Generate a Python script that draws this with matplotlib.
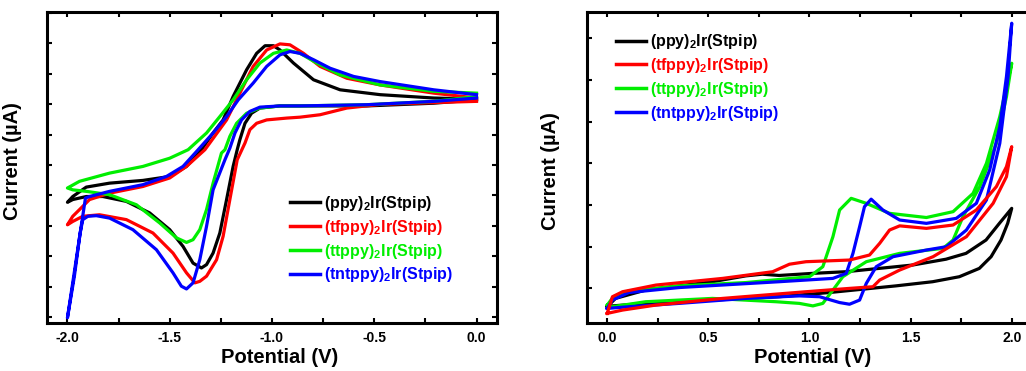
import numpy as np
import matplotlib
matplotlib.use('Agg')
import matplotlib.pyplot as plt
from matplotlib.ticker import MultipleLocator, NullFormatter

plt.rcParams['font.family'] = ['Liberation Sans', 'DejaVu Sans']
plt.rcParams['font.weight'] = 'bold'
plt.rcParams['axes.unicode_minus'] = False
plt.rcParams['mathtext.fontset'] = 'custom'
plt.rcParams['mathtext.rm'] = 'Liberation Sans:bold'
plt.rcParams['mathtext.bf'] = 'Liberation Sans:bold'

labels = ['(ppy)$_\\mathbf{2}$Ir(Stpip)', '(tfppy)$_\\mathbf{2}$Ir(Stpip)',
          '(ttppy)$_\\mathbf{2}$Ir(Stpip)', '(tntppy)$_\\mathbf{2}$Ir(Stpip)']
colors = ['#000000', '#ff0000', '#00ee00', '#0000ff']

# ---- reduction scans (left), potential in V, current in arbitrary units
red_ppy_v = [0.0, -0.209, -0.536, -0.863, -0.961, -1.059, -1.100, -1.132, -1.157, -1.170, -1.190, -1.222,
             -1.255, -1.288, -1.320, -1.345, -1.386, -1.435, -1.500, -1.598, -1.712, -1.827, -1.908, -1.974,
             -2.0, -1.974, -1.908, -1.794, -1.631, -1.500, -1.418, -1.345, -1.288, -1.239, -1.190, -1.124,
             -1.075, -1.034, -0.993, -0.961, -0.895, -0.797, -0.667, -0.471, -0.209, 0.0]
red_ppy_i = [7.14, 7.03, 6.94, 6.94, 6.94, 6.87, 6.70, 6.37, 5.83, 5.50, 4.95, 3.86,
             2.76, 2.10, 1.72, 1.61, 1.77, 2.32, 2.87, 3.42, 3.80, 3.96, 3.96, 3.86,
             3.77, 3.96, 4.27, 4.40, 4.49, 4.62, 4.95, 5.50, 6.05, 6.48, 7.25, 8.13,
             8.67, 8.92, 8.92, 8.78, 8.35, 7.80, 7.47, 7.31, 7.20, 7.16]

red_tfppy_v = [0.0, -0.209, -0.471, -0.634, -0.765, -0.863, -0.928, -1.026, -1.075, -1.108, -1.132, -1.170,
               -1.206, -1.239, -1.271, -1.320, -1.353, -1.377, -1.418, -1.484, -1.582, -1.712, -1.843, -1.925,
               -1.974, -2.0, -1.974, -1.941, -1.892, -1.794, -1.631, -1.500, -1.418, -1.328, -1.222, -1.157,
               -1.092, -1.026, -0.961, -0.912, -0.846, -0.765, -0.634, -0.471, -0.209, 0.0]
red_tfppy_i = [7.09, 7.05, 6.99, 6.87, 6.65, 6.57, 6.54, 6.48, 6.37, 6.16, 5.72, 5.17,
               3.86, 2.65, 1.88, 1.34, 1.17, 1.12, 1.45, 2.10, 2.76, 3.20, 3.36, 3.31,
               3.14, 3.03, 3.31, 3.53, 3.86, 4.07, 4.29, 4.57, 4.95, 5.50, 6.48, 7.36,
               8.24, 8.78, 8.98, 8.95, 8.67, 8.24, 7.85, 7.63, 7.36, 7.20]

red_ttppy_v = [0.0, -0.209, -0.536, -0.863, -0.961, -1.059, -1.124, -1.173, -1.206, -1.230, -1.247, -1.288,
               -1.320, -1.353, -1.386, -1.418, -1.467, -1.549, -1.663, -1.794, -1.908, -1.974, -2.0, -1.941,
               -1.794, -1.631, -1.500, -1.410, -1.320, -1.255, -1.190, -1.124, -1.059, -0.993, -0.928, -0.863,
               -0.781, -0.667, -0.471, -0.209, 0.0]
red_ttppy_i = [7.25, 7.09, 6.98, 6.94, 6.94, 6.87, 6.70, 6.37, 5.94, 5.50, 5.39, 4.40,
               3.53, 2.87, 2.54, 2.45, 2.60, 3.09, 3.69, 4.02, 4.13, 4.18, 4.24, 4.46,
               4.73, 4.95, 5.22, 5.50, 6.05, 6.59, 7.14, 7.80, 8.35, 8.67, 8.78, 8.67,
               8.35, 7.96, 7.63, 7.42, 7.36]

red_tntppy_v = [0.0, -0.209, -0.536, -0.863, -0.961, -1.059, -1.108, -1.149, -1.181, -1.206, -1.230, -1.288,
                -1.320, -1.353, -1.386, -1.418, -1.443, -1.484, -1.565, -1.680, -1.794, -1.859, -1.900, -1.925,
                -1.938, -1.966, -2.0, -1.912, -1.892, -1.794, -1.631, -1.516, -1.435, -1.369, -1.288, -1.222,
                -1.165, -1.092, -1.026, -0.961, -0.912, -0.863, -0.797, -0.716, -0.601, -0.471, -0.209, 0.0]
red_tntppy_i = [7.20, 7.09, 6.98, 6.94, 6.94, 6.90, 6.76, 6.48, 6.05, 5.55, 5.17, 4.18,
                2.98, 1.88, 1.12, 0.92, 1.01, 1.45, 2.21, 2.87, 3.25, 3.33, 3.31, 3.20,
                2.76, 1.34, -0.03, 3.91, 3.96, 4.13, 4.35, 4.62, 4.95, 5.44, 6.05, 6.59,
                7.14, 7.69, 8.24, 8.62, 8.73, 8.67, 8.46, 8.18, 7.91, 7.74, 7.47, 7.31]

# ---- oxidation scans (right)
ox_ppy_v = [0.0, 0.041, 0.190, 0.520, 0.685, 0.767, 0.850, 1.015, 1.180, 1.345, 1.510, 1.675,
            1.774, 1.873, 1.939, 2.0, 1.980, 1.947, 1.898, 1.840, 1.741, 1.609, 1.427, 1.262,
            1.097, 0.850, 0.520, 0.190, 0.025, 0.0]
ox_ppy_i = [-0.44, -0.24, -0.04, 0.16, 0.30, 0.34, 0.31, 0.36, 0.40, 0.48, 0.56, 0.70,
            0.84, 1.16, 1.56, 1.92, 1.56, 1.16, 0.76, 0.48, 0.28, 0.16, 0.06, -0.02,
            -0.10, -0.20, -0.28, -0.36, -0.42, -0.44]

ox_tfppy_v = [0.0, 0.026, 0.076, 0.241, 0.571, 0.818, 0.901, 0.983, 1.198, 1.297, 1.347, 1.396,
              1.446, 1.578, 1.710, 1.825, 1.924, 1.974, 2.0, 1.974, 1.908, 1.776, 1.611, 1.446,
              1.347, 1.314, 1.198, 0.983, 0.571, 0.241, 0.076, 0.0]
ox_tfppy_i = [-0.60, -0.20, -0.08, 0.08, 0.24, 0.40, 0.58, 0.64, 0.68, 0.80, 1.08, 1.40,
              1.50, 1.44, 1.52, 1.88, 2.44, 2.92, 3.40, 2.68, 2.04, 1.24, 0.76, 0.44,
              0.20, 0.04, 0.00, -0.08, -0.24, -0.40, -0.52, -0.60]

ox_ttppy_v = [0.0, 0.031, 0.107, 0.355, 0.685, 1.000, 1.066, 1.116, 1.149, 1.206, 1.281, 1.396,
              1.578, 1.710, 1.809, 1.875, 1.941, 2.0, 1.974, 1.924, 1.842, 1.759, 1.710, 1.660,
              1.446, 1.281, 1.165, 1.116, 1.066, 1.017, 0.950, 0.835, 0.520, 0.190, 0.025, 0.0]
ox_ttppy_i = [-0.40, -0.20, -0.06, 0.06, 0.14, 0.28, 0.52, 1.24, 1.88, 2.16, 2.04, 1.80,
              1.70, 1.84, 2.28, 3.00, 4.12, 5.40, 4.60, 3.48, 2.44, 1.72, 1.16, 0.96,
              0.84, 0.64, 0.28, -0.04, -0.36, -0.42, -0.36, -0.32, -0.24, -0.32, -0.44, -0.40]

ox_tntppy_v = [0.0, 0.025, 0.107, 0.355, 0.850, 1.116, 1.182, 1.215, 1.248, 1.272, 1.305, 1.363,
               1.446, 1.578, 1.726, 1.825, 1.891, 1.941, 1.974, 2.0, 1.982, 1.941, 1.875, 1.776,
               1.677, 1.578, 1.413, 1.330, 1.281, 1.248, 1.198, 1.149, 1.050, 0.950, 0.685, 0.355,
               0.107, 0.0]
ox_tntppy_i = [-0.48, -0.28, -0.10, 0.02, 0.16, 0.24, 0.36, 0.84, 1.48, 1.96, 2.14, 1.88,
               1.64, 1.56, 1.68, 2.04, 2.84, 3.88, 5.08, 6.36, 5.08, 3.48, 2.12, 1.40,
               1.00, 0.92, 0.76, 0.52, 0.12, -0.28, -0.38, -0.34, -0.20, -0.18, -0.24, -0.36,
               -0.44, -0.48]

red_curves = [(red_ppy_v, red_ppy_i), (red_tfppy_v, red_tfppy_i),
              (red_ttppy_v, red_ttppy_i), (red_tntppy_v, red_tntppy_i)]
ox_curves = [(ox_ppy_v, ox_ppy_i), (ox_tfppy_v, ox_tfppy_i),
             (ox_ttppy_v, ox_ttppy_i), (ox_tntppy_v, ox_tntppy_i)]


def style_axes(ax):
    for s in ax.spines.values():
        s.set_linewidth(2.2)
    ax.xaxis.set_major_locator(MultipleLocator(0.5))
    ax.xaxis.set_minor_locator(MultipleLocator(0.25))
    ax.yaxis.set_major_locator(MultipleLocator(1))
    ax.yaxis.set_major_formatter(NullFormatter())
    ax.tick_params(which='both', direction='in', top=True, right=True,
                   length=3.5, width=1.5, labelsize=10, pad=6)
    ax.tick_params(axis='y', which='minor', left=False, right=False)
    for lab in ax.get_xticklabels():
        lab.set_fontweight('bold')
    ax.set_xlabel('Potential (V)', fontsize=14.5, fontweight='bold')
    ax.set_ylabel('Current (\u00b5A)', fontsize=14.5, fontweight='bold')


fig = plt.figure(figsize=(10.26, 3.71), dpi=100)
ax1 = fig.add_axes([0.0458, 0.1294, 0.4386, 0.8383])
ax2 = fig.add_axes([0.5721, 0.1294, 0.4337, 0.8383])

for (v, i), c, lab in zip(red_curves, colors, labels):
    ax1.plot(v, i, color=c, lw=2.3, label=lab, solid_joinstyle='round')

order = [0, 2, 3, 1]
lines = {}
for k in order:
    v, i = ox_curves[k]
    lines[k], = ax2.plot(v, i, color=colors[k], lw=2.3, label=labels[k], solid_joinstyle='round')

ax1.set_xlim(-2.1, 0.1)
ax1.set_ylim(-0.2, 10.03)
ax2.set_xlim(-0.1, 2.1)
ax2.set_ylim(-0.83, 6.63)

for ax in (ax1, ax2):
    style_axes(ax)

ax1.xaxis.set_label_coords(0.516, -0.08)
ax2.xaxis.set_label_coords(0.506, -0.08)
ax1.yaxis.set_label_coords(-0.056, 0.52)
ax2.yaxis.set_label_coords(-0.061, 0.49)

leg_kw = dict(frameon=False, fontsize=11.5, handlelength=1.9, handletextpad=0.25,
              labelspacing=0.3, borderpad=0, borderaxespad=0, loc='upper left')
leg1 = ax1.legend(bbox_to_anchor=(0.54, 0.415), **leg_kw)
h2 = [lines[k] for k in range(4)]
leg2 = ax2.legend(h2, labels, bbox_to_anchor=(0.065, 0.935), **leg_kw)
for leg in (leg1, leg2):
    for t, c in zip(leg.get_texts(), colors):
        t.set_color(c)
    for ln in leg.get_lines():
        ln.set_linewidth(2.5)

fig.savefig('out.png', dpi=100)
